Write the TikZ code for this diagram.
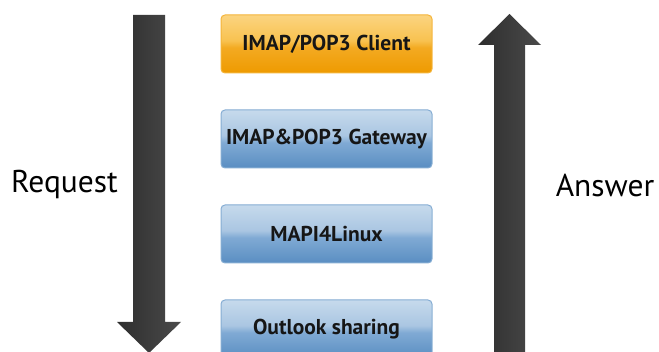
\documentclass[tikz,border=0pt]{standalone}
\usepackage{fontspec}
\setmainfont{PT Sans}
\usetikzlibrary{positioning}
\definecolor{orangerim}{HTML}{F4B43A}
\definecolor{orangetop}{HTML}{FBD480}
\definecolor{orangehigh}{HTML}{F8C250}
\definecolor{orangelow}{HTML}{F3AA22}
\definecolor{orangebot}{HTML}{EE9A00}
\definecolor{bluerim}{HTML}{85ADD3}
\definecolor{bluetop}{HTML}{C6DAEC}
\definecolor{bluehigh}{HTML}{AAC6E2}
\definecolor{bluelow}{HTML}{80AAD4}
\definecolor{bluebot}{HTML}{5A8EC2}
\definecolor{arrowdark}{HTML}{2E2E2E}
\definecolor{arrowlight}{HTML}{4A4A4A}
\definecolor{boxtext}{HTML}{161616}
\pgfdeclareverticalshading{blueglass}{100bp}{
  color(0bp)=(bluebot); color(25bp)=(bluebot);
  color(47bp)=(bluelow); color(53bp)=(bluehigh);
  color(75bp)=(bluetop); color(100bp)=(bluetop)}
\pgfdeclareverticalshading{orangeglass}{100bp}{
  color(0bp)=(orangebot); color(25bp)=(orangebot);
  color(47bp)=(orangelow); color(53bp)=(orangehigh);
  color(75bp)=(orangetop); color(100bp)=(orangetop)}

\begin{document}
\begin{tikzpicture}[x=1pt, y=-1pt, node distance=36pt,
  layer/.style={draw=bluerim, line width=1pt, rounded corners=4pt,
    minimum width=211pt, minimum height=58pt, text=boxtext,
    shading=blueglass, inner sep=1pt,
    font=\bfseries\fontsize{21.5}{21.5}\selectfont},
  client/.style={layer, draw=orangerim, shading=orangeglass},
  side/.style={font=\fontsize{31.5}{31.5}\selectfont, text=black}]
  \useasboundingbox (0,0) rectangle (659,352);

  % request arrow, pointing down
  \shade[left color=arrowdark, right color=arrowlight]
    (133,15) -- (165,15) -- (165,322) -- (181,322) -- (149,353)
    -- (117,322) -- (133,322) -- cycle;
  % answer arrow, pointing up
  \shade[left color=arrowdark, right color=arrowlight]
    (494,352) -- (525,352) -- (525,45) -- (541,45) -- (509.5,14)
    -- (478,45) -- (494,45) -- cycle;

  \node[client] (client) at (326.5,44) {IMAP/POP3 Client};
  \node[layer, below=36pt of client] (gateway) {IMAP\&POP3 Gateway};
  \node[layer, below=36pt of gateway] (mapi) {MAPI4Linux};
  \node[layer, below=36pt of mapi] (sharing) {Outlook sharing};

  \node[side] (request) at (64.5,185) {Request};
  \node[side] (answer) at (605,185) {Answer};
\end{tikzpicture}
\end{document}
